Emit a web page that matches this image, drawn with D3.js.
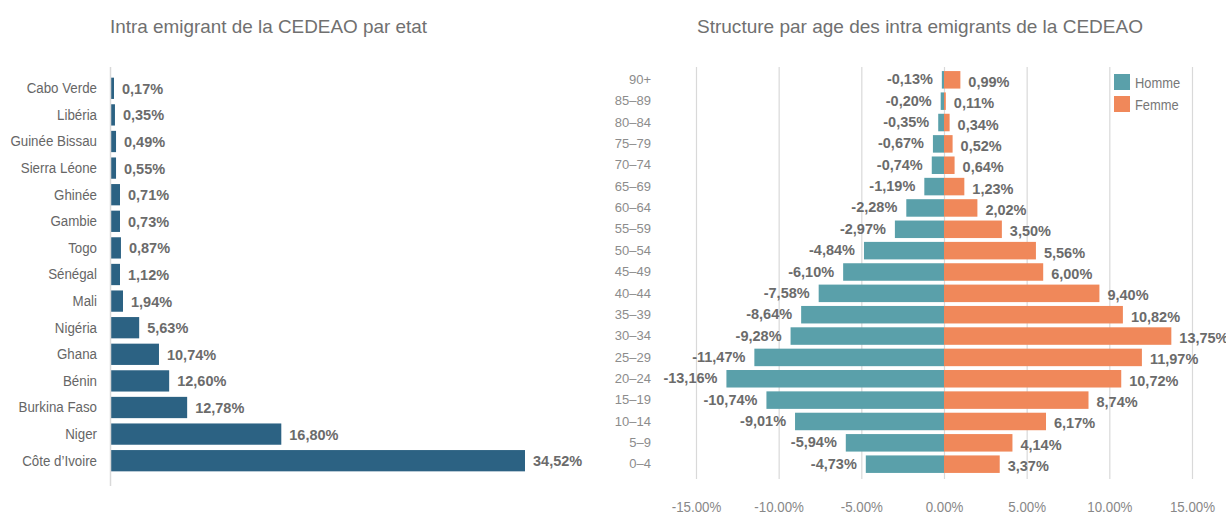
<!DOCTYPE html>
<html>
<head>
<meta charset="utf-8">
<script src="https://cdn.jsdelivr.net/npm/d3@7"></script>
<style>
  html, body { margin: 0; padding: 0; background: #ffffff; }
  svg { display: block; font-family: "Liberation Sans", Arial, sans-serif; }
</style>
</head>
<body>
<svg id="chart" width="1226" height="514"></svg>
<script>
// ---------- Left chart data ----------
const countries = ["Cabo Verde", "Libéria", "Guinée Bissau", "Sierra Léone", "Ghinée", "Gambie", "Togo", "Sénégal", "Mali", "Nigéria", "Ghana", "Bénin", "Burkina Faso", "Niger", "Côte d’Ivoire"];
// printed shares (labels)
const countryShares = [0.17, 0.35, 0.49, 0.55, 0.71, 0.73, 0.87, 1.12, 1.94, 5.63, 10.74, 12.60, 12.78, 16.80, 34.52];
// bar lengths as drawn in the picture (they do not follow the printed shares)
const countryBarValues = [0.25, 0.33, 0.42, 0.42, 0.75, 0.75, 0.83, 0.75, 1.0, 2.35, 4.0, 4.85, 6.35, 14.2, 34.52];

// ---------- Right chart data ----------
const ageGroups = ["90+", "85–89", "80–84", "75–79", "70–74", "65–69", "60–64", "55–59", "50–54", "45–49", "40–44", "35–39", "30–34", "25–29", "20–24", "15–19", "10–14", "5–9", "0–4"];
const homme = [-0.13, -0.20, -0.35, -0.67, -0.74, -1.19, -2.28, -2.97, -4.84, -6.10, -7.58, -8.64, -9.28, -11.47, -13.16, -10.74, -9.01, -5.94, -4.73];
const femme = [0.99, 0.11, 0.34, 0.52, 0.64, 1.23, 2.02, 3.50, 5.56, 6.00, 9.40, 10.82, 13.75, 11.97, 10.72, 8.74, 6.17, 4.14, 3.37];
const xTicks = [-15, -10, -5, 0, 5, 10, 15];
const seriesNames = ["Homme", "Femme"];

const svg = d3.select("#chart");
const fmtComma = v => v.toFixed(2).replace(".", ",") + "%";
const fmtDot = v => v.toFixed(2) + "%";

const BAR_COLOR = "#2c6283";
const HOMME_COLOR = "#5aa0aa";
const FEMME_COLOR = "#f0885a";
const LABEL_COLOR = "#6b6b6b";
const GRID_COLOR = "#d9d9d9";
const NARROW = 0.86;

// horizontally condense text (narrow typeface look)
function squeeze(sel, s) {
  sel.each(function () {
    const t = d3.select(this);
    const x = +t.attr("x") || 0, y = +t.attr("y") || 0;
    t.attr("x", 0).attr("y", 0).attr("transform", `translate(${x},${y}) scale(${s},1)`);
  });
}

// ---------- Left chart ----------
const L = { x0: 111, x1: 525, y0: 75, y1: 474 };
const xL = d3.scaleLinear().domain([0, 34.52]).range([L.x0, L.x1]);
const yL = d3.scaleBand().domain(countries).range([L.y0, L.y1]).paddingInner(0.2).paddingOuter(0.1);

svg.append("text")
  .attr("x", 110).attr("y", 33)
  .attr("font-size", 19).attr("fill", "#707070")
  .attr("textLength", 317).attr("lengthAdjust", "spacingAndGlyphs")
  .text("Intra emigrant de la CEDEAO par etat");

svg.append("g").selectAll("rect")
  .data(countries)
  .join("rect")
  .attr("x", xL(0))
  .attr("y", d => yL(d))
  .attr("width", (d, i) => xL(countryBarValues[i]) - xL(0))
  .attr("height", yL.bandwidth())
  .attr("fill", BAR_COLOR);

svg.append("line")
  .attr("x1", 110.5).attr("x2", 110.5)
  .attr("y1", 67).attr("y2", 486)
  .attr("stroke", GRID_COLOR).attr("stroke-width", 1.5);

const yAxisL = d3.axisLeft(yL).tickSize(0).tickPadding(14);
const gyL = svg.append("g").attr("transform", `translate(${xL(0)},0)`).call(yAxisL);
gyL.select(".domain").remove();
gyL.selectAll("text")
  .attr("font-family", null)
  .attr("font-size", 15.5).attr("fill", "#666666")
  .call(squeeze, NARROW);

svg.append("g").selectAll("text")
  .data(countries)
  .join("text")
  .attr("x", (d, i) => xL(countryBarValues[i]) + 8)
  .attr("y", d => yL(d) + yL.bandwidth() / 2 + 5.5)
  .attr("font-size", 14.5).attr("font-weight", "bold").attr("fill", LABEL_COLOR)
  .text((d, i) => fmtComma(countryShares[i]));

// ---------- Right chart ----------
const R = { x0: 696, x1: 1192, y0: 70, y1: 474 };
const xR = d3.scaleLinear().domain([-15, 15]).range([R.x0, R.x1]);
const yR = d3.scaleBand().domain(ageGroups).range([R.y0, R.y1]).paddingInner(0.18).paddingOuter(0.05);

svg.append("text")
  .attr("x", 697).attr("y", 33)
  .attr("font-size", 19).attr("fill", "#707070")
  .attr("textLength", 446).attr("lengthAdjust", "spacingAndGlyphs")
  .text("Structure par age des intra emigrants de la CEDEAO");

const xAxisR = d3.axisBottom(xR).tickValues(xTicks).tickSize(-(R.y1 - R.y0 + 8)).tickPadding(24).tickFormat(fmtDot);
const gxR = svg.append("g").attr("transform", `translate(0,${R.y1 + 5})`).call(xAxisR);
gxR.select(".domain").remove();
gxR.selectAll("line").attr("stroke", GRID_COLOR).attr("stroke-width", 1.2);
gxR.selectAll("text").attr("font-family", null).attr("font-size", 15.5).attr("fill", "#888888")
  .attr("dy", "0.55em")
  .call(squeeze, NARROW);

svg.append("g").selectAll("rect")
  .data(ageGroups)
  .join("rect")
  .attr("x", (d, i) => xR(homme[i]))
  .attr("y", d => yR(d))
  .attr("width", (d, i) => xR(0) - xR(homme[i]))
  .attr("height", yR.bandwidth())
  .attr("fill", HOMME_COLOR);

svg.append("g").selectAll("rect")
  .data(ageGroups)
  .join("rect")
  .attr("x", xR(0))
  .attr("y", d => yR(d))
  .attr("width", (d, i) => xR(femme[i]) - xR(0))
  .attr("height", yR.bandwidth())
  .attr("fill", FEMME_COLOR);

const yAxisR = d3.axisLeft(yR).tickSize(0).tickPadding(0);
const gyR = svg.append("g").attr("transform", "translate(651,0)").call(yAxisR);
gyR.select(".domain").remove();
gyR.selectAll("text").attr("font-family", null).attr("font-size", 13).attr("fill", "#8c8c8c");

svg.append("g").selectAll("text")
  .data(ageGroups)
  .join("text")
  .attr("x", (d, i) => xR(homme[i]) - 9)
  .attr("y", d => yR(d) + yR.bandwidth() / 2 + 4.5)
  .attr("text-anchor", "end")
  .attr("font-size", 14.5).attr("font-weight", "bold").attr("fill", LABEL_COLOR)
  .text((d, i) => fmtComma(homme[i]));

svg.append("g").selectAll("text")
  .data(ageGroups)
  .join("text")
  .attr("x", (d, i) => xR(femme[i]) + 8)
  .attr("y", d => yR(d) + yR.bandwidth() / 2 + 7)
  .attr("font-size", 14.5).attr("font-weight", "bold").attr("fill", LABEL_COLOR)
  .text((d, i) => fmtComma(femme[i]));

// legend
const leg = svg.append("g").selectAll("g")
  .data(seriesNames)
  .join("g")
  .attr("transform", (d, i) => `translate(1114,${74 + i * 22})`);
leg.append("rect").attr("width", 16).attr("height", 16)
  .attr("fill", (d, i) => i === 0 ? HOMME_COLOR : FEMME_COLOR);
leg.append("text").attr("x", 21).attr("y", 14)
  .attr("font-size", 15).attr("fill", "#777777").text(d => d)
  .call(squeeze, NARROW);
</script>
</body>
</html>
